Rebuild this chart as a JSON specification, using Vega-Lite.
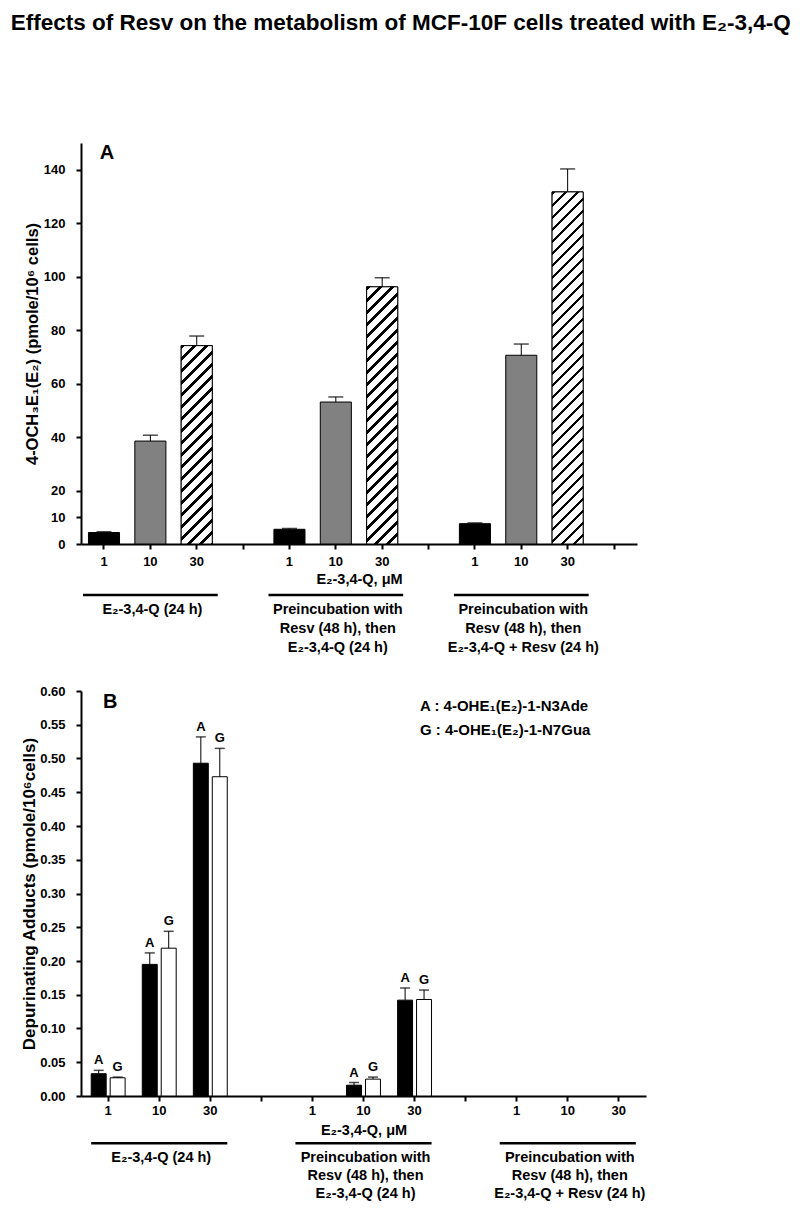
{
"$schema": "https://vega.github.io/schema/vega-lite/v6.json",
"padding": {"left": 10, "top": 12, "right": 5, "bottom": 0},
"title": {"text": "Effects of Resv on the metabolism of MCF-10F cells treated with E₂-3,4-Q", "font": "Liberation Sans", "fontSize": 22.5, "fontWeight": "bold", "color": "black", "anchor": "start", "offset": 108, "dx": -10},
"config": {
  "view": {"stroke": null},
  "font": "Liberation Sans",
  "axis": {"grid": false, "domainColor": "black", "domainWidth": 2, "tickColor": "black", "tickWidth": 2, "tickSize": 5, "labelFont": "Liberation Sans", "labelFontSize": 13, "labelFontWeight": "bold", "labelColor": "black", "titleFont": "Liberation Sans", "titleFontWeight": "bold", "titleColor": "black", "labelOverlap": false},
  "axisX": {"labelAngle": 0},
  "text": {"font": "Liberation Sans", "fontWeight": "bold", "color": "black"}
},
"datasets": {
  "a": [
    {"key": "1a", "conc": "1", "value": 4.3, "hi": 4.6},
    {"key": "10a", "conc": "10", "value": 38.5, "hi": 40.7},
    {"key": "30a", "conc": "30", "value": 74.2, "hi": 77.8},
    {"key": "1b", "conc": "1", "value": 5.5, "hi": 5.8},
    {"key": "10b", "conc": "10", "value": 53.1, "hi": 55.0},
    {"key": "30b", "conc": "30", "value": 96.2, "hi": 99.6},
    {"key": "1c", "conc": "1", "value": 7.6, "hi": 7.9},
    {"key": "10c", "conc": "10", "value": 70.6, "hi": 74.8},
    {"key": "30c", "conc": "30", "value": 131.7, "hi": 140.3}
  ],
  "b": [
    {"key": "1a", "series": "A", "value": 0.033, "hi": 0.038},
    {"key": "1a", "series": "G", "value": 0.027, "hi": 0.028},
    {"key": "10a", "series": "A", "value": 0.195, "hi": 0.212},
    {"key": "10a", "series": "G", "value": 0.219, "hi": 0.244},
    {"key": "30a", "series": "A", "value": 0.493, "hi": 0.532},
    {"key": "30a", "series": "G", "value": 0.473, "hi": 0.515},
    {"key": "10b", "series": "A", "value": 0.016, "hi": 0.020},
    {"key": "10b", "series": "G", "value": 0.025, "hi": 0.028},
    {"key": "30b", "series": "A", "value": 0.142, "hi": 0.160},
    {"key": "30b", "series": "G", "value": 0.143, "hi": 0.157}
  ],
  "groupsA": [
    {"start": "1a", "end": "30a", "mid": "10a", "label": "E₂-3,4-Q  (24 h)"},
    {"start": "1b", "end": "30b", "mid": "10b", "label": "Preincubation with\nResv (48 h), then\nE₂-3,4-Q  (24 h)"},
    {"start": "1c", "end": "30c", "mid": "10c", "label": "Preincubation with\nResv (48 h), then\nE₂-3,4-Q + Resv  (24 h)"}
  ],
  "groupsB": [
    {"start": "1a", "end": "30a", "mid": "10a", "label": "E₂-3,4-Q  (24 h)"},
    {"start": "1b", "end": "30b", "mid": "10b", "label": "Preincubation with\nResv (48 h), then\nE₂-3,4-Q  (24 h)"},
    {"start": "1c", "end": "30c", "mid": "10c", "label": "Preincubation with\nResv (48 h), then\nE₂-3,4-Q + Resv  (24 h)"}
  ]
},
"spacing": 30,
"resolve": {"scale": {"fill": "independent", "x": "independent", "y": "independent"}, "legend": {"fill": "independent"}},
"vconcat": [
{
  "width": 556, "height": 401,
  "data": {"name": "a"},
  "encoding": {
    "x": {"field": "key", "type": "nominal", "scale": {"domain": ["1a","10a","30a","xa","1b","10b","30b","xb","1c","10c","30c","xc"], "paddingInner": 0.33, "paddingOuter": 0.161},
      "axis": {"title": "E₂-3,4-Q, μM", "titleFontSize": 14.5, "titlePadding": 4, "labelPadding": 6, "labelAngle": 0, "labelExpr": "substring(datum.value,0,1)=='x' ? '' : substring(datum.value,0,length(datum.value)-1)"}}
  },
  "layer": [
    {"mark": {"type": "bar", "stroke": "black", "strokeWidth": 1},
     "encoding": {
       "y": {"field": "value", "type": "quantitative", "scale": {"domain": [0, 150], "nice": false}, "axis": {"values": [0,10,20,40,60,80,100,120,140], "labelOverlap": false, "title": "4-OCH₃E₁(E₂) (pmole/10⁶ cells)", "titleFontSize": 16.5, "titlePadding": 3, "labelPadding": 11}},
       "fill": {"field": "conc", "type": "nominal", "scale": {"domain": ["1","10","30"], "range": ["black","#818181","white"]}, "legend": null}
     }},
    {"transform": [{"filter": "datum.key=='30a'"}],
     "mark": {"type": "bar", "stroke": "black", "strokeWidth": 1, "fill": {"gradient": "linear", "x1": 0, "y1": 0, "x2": 0.3079, "y2": 1.968, "stops": [
{"offset":0,"color":"#000"},{"offset":0.009,"color":"#000"},{"offset":0.009,"color":"#fff"},{"offset":0.03,"color":"#fff"},
{"offset":0.03,"color":"#000"},{"offset":0.039,"color":"#000"},{"offset":0.039,"color":"#fff"},{"offset":0.06,"color":"#fff"},
{"offset":0.06,"color":"#000"},{"offset":0.069,"color":"#000"},{"offset":0.069,"color":"#fff"},{"offset":0.09,"color":"#fff"},
{"offset":0.09,"color":"#000"},{"offset":0.099,"color":"#000"},{"offset":0.099,"color":"#fff"},{"offset":0.12,"color":"#fff"},
{"offset":0.12,"color":"#000"},{"offset":0.129,"color":"#000"},{"offset":0.129,"color":"#fff"},{"offset":0.15,"color":"#fff"},
{"offset":0.15,"color":"#000"},{"offset":0.159,"color":"#000"},{"offset":0.159,"color":"#fff"},{"offset":0.18,"color":"#fff"},
{"offset":0.18,"color":"#000"},{"offset":0.189,"color":"#000"},{"offset":0.189,"color":"#fff"},{"offset":0.21,"color":"#fff"},
{"offset":0.21,"color":"#000"},{"offset":0.219,"color":"#000"},{"offset":0.219,"color":"#fff"},{"offset":0.24,"color":"#fff"},
{"offset":0.24,"color":"#000"},{"offset":0.249,"color":"#000"},{"offset":0.249,"color":"#fff"},{"offset":0.27,"color":"#fff"},
{"offset":0.27,"color":"#000"},{"offset":0.279,"color":"#000"},{"offset":0.279,"color":"#fff"},{"offset":0.3,"color":"#fff"},
{"offset":0.3,"color":"#000"},{"offset":0.309,"color":"#000"},{"offset":0.309,"color":"#fff"},{"offset":0.33,"color":"#fff"},
{"offset":0.33,"color":"#000"},{"offset":0.339,"color":"#000"},{"offset":0.339,"color":"#fff"},{"offset":0.36,"color":"#fff"},
{"offset":0.36,"color":"#000"},{"offset":0.369,"color":"#000"},{"offset":0.369,"color":"#fff"},{"offset":0.39,"color":"#fff"},
{"offset":0.39,"color":"#000"},{"offset":0.399,"color":"#000"},{"offset":0.399,"color":"#fff"},{"offset":0.42,"color":"#fff"},
{"offset":0.42,"color":"#000"},{"offset":0.429,"color":"#000"},{"offset":0.429,"color":"#fff"},{"offset":0.45,"color":"#fff"},
{"offset":0.45,"color":"#000"},{"offset":0.459,"color":"#000"},{"offset":0.459,"color":"#fff"},{"offset":0.48,"color":"#fff"},
{"offset":0.48,"color":"#000"},{"offset":0.489,"color":"#000"},{"offset":0.489,"color":"#fff"},{"offset":0.51,"color":"#fff"},
{"offset":0.51,"color":"#000"},{"offset":0.519,"color":"#000"},{"offset":0.519,"color":"#fff"},{"offset":0.54,"color":"#fff"},
{"offset":0.54,"color":"#000"},{"offset":0.549,"color":"#000"},{"offset":0.549,"color":"#fff"},{"offset":0.57,"color":"#fff"},
{"offset":0.57,"color":"#000"},{"offset":0.579,"color":"#000"},{"offset":0.579,"color":"#fff"},{"offset":0.6,"color":"#fff"},
{"offset":0.6,"color":"#000"},{"offset":0.609,"color":"#000"},{"offset":0.609,"color":"#fff"},{"offset":0.63,"color":"#fff"},
{"offset":0.63,"color":"#000"},{"offset":0.639,"color":"#000"},{"offset":0.639,"color":"#fff"},{"offset":0.66,"color":"#fff"},
{"offset":0.66,"color":"#000"},{"offset":0.669,"color":"#000"},{"offset":0.669,"color":"#fff"},{"offset":0.69,"color":"#fff"},
{"offset":0.69,"color":"#000"},{"offset":0.699,"color":"#000"},{"offset":0.699,"color":"#fff"},{"offset":0.72,"color":"#fff"},
{"offset":0.72,"color":"#000"},{"offset":0.729,"color":"#000"},{"offset":0.729,"color":"#fff"},{"offset":0.75,"color":"#fff"},
{"offset":0.75,"color":"#000"},{"offset":0.759,"color":"#000"},{"offset":0.759,"color":"#fff"},{"offset":0.78,"color":"#fff"},
{"offset":0.78,"color":"#000"},{"offset":0.789,"color":"#000"},{"offset":0.789,"color":"#fff"},{"offset":0.81,"color":"#fff"},
{"offset":0.81,"color":"#000"},{"offset":0.819,"color":"#000"},{"offset":0.819,"color":"#fff"},{"offset":0.84,"color":"#fff"},
{"offset":0.84,"color":"#000"},{"offset":0.849,"color":"#000"},{"offset":0.849,"color":"#fff"},{"offset":0.87,"color":"#fff"},
{"offset":0.87,"color":"#000"},{"offset":0.879,"color":"#000"},{"offset":0.879,"color":"#fff"},{"offset":0.9,"color":"#fff"},
{"offset":0.9,"color":"#000"},{"offset":0.909,"color":"#000"},{"offset":0.909,"color":"#fff"},{"offset":0.93,"color":"#fff"},
{"offset":0.93,"color":"#000"},{"offset":0.939,"color":"#000"},{"offset":0.939,"color":"#fff"},{"offset":0.96,"color":"#fff"},
{"offset":0.96,"color":"#000"},{"offset":0.969,"color":"#000"},{"offset":0.969,"color":"#fff"},{"offset":0.99,"color":"#fff"},
{"offset":0.99,"color":"#000"},{"offset":0.999,"color":"#000"},{"offset":0.999,"color":"#fff"},{"offset":1,"color":"#fff"}
     ]}},
     "encoding": {"y": {"field": "value", "type": "quantitative"}}},
    {"transform": [{"filter": "datum.key=='30b'"}],
     "mark": {"type": "bar", "stroke": "black", "strokeWidth": 1, "fill": {"gradient": "linear", "x1": 0, "y1": 0, "x2": 0.185, "y2": 1.5329, "stops": [
{"offset":0,"color":"#000"},{"offset":0.009,"color":"#000"},{"offset":0.009,"color":"#fff"},{"offset":0.03,"color":"#fff"},
{"offset":0.03,"color":"#000"},{"offset":0.039,"color":"#000"},{"offset":0.039,"color":"#fff"},{"offset":0.06,"color":"#fff"},
{"offset":0.06,"color":"#000"},{"offset":0.069,"color":"#000"},{"offset":0.069,"color":"#fff"},{"offset":0.09,"color":"#fff"},
{"offset":0.09,"color":"#000"},{"offset":0.099,"color":"#000"},{"offset":0.099,"color":"#fff"},{"offset":0.12,"color":"#fff"},
{"offset":0.12,"color":"#000"},{"offset":0.129,"color":"#000"},{"offset":0.129,"color":"#fff"},{"offset":0.15,"color":"#fff"},
{"offset":0.15,"color":"#000"},{"offset":0.159,"color":"#000"},{"offset":0.159,"color":"#fff"},{"offset":0.18,"color":"#fff"},
{"offset":0.18,"color":"#000"},{"offset":0.189,"color":"#000"},{"offset":0.189,"color":"#fff"},{"offset":0.21,"color":"#fff"},
{"offset":0.21,"color":"#000"},{"offset":0.219,"color":"#000"},{"offset":0.219,"color":"#fff"},{"offset":0.24,"color":"#fff"},
{"offset":0.24,"color":"#000"},{"offset":0.249,"color":"#000"},{"offset":0.249,"color":"#fff"},{"offset":0.27,"color":"#fff"},
{"offset":0.27,"color":"#000"},{"offset":0.279,"color":"#000"},{"offset":0.279,"color":"#fff"},{"offset":0.3,"color":"#fff"},
{"offset":0.3,"color":"#000"},{"offset":0.309,"color":"#000"},{"offset":0.309,"color":"#fff"},{"offset":0.33,"color":"#fff"},
{"offset":0.33,"color":"#000"},{"offset":0.339,"color":"#000"},{"offset":0.339,"color":"#fff"},{"offset":0.36,"color":"#fff"},
{"offset":0.36,"color":"#000"},{"offset":0.369,"color":"#000"},{"offset":0.369,"color":"#fff"},{"offset":0.39,"color":"#fff"},
{"offset":0.39,"color":"#000"},{"offset":0.399,"color":"#000"},{"offset":0.399,"color":"#fff"},{"offset":0.42,"color":"#fff"},
{"offset":0.42,"color":"#000"},{"offset":0.429,"color":"#000"},{"offset":0.429,"color":"#fff"},{"offset":0.45,"color":"#fff"},
{"offset":0.45,"color":"#000"},{"offset":0.459,"color":"#000"},{"offset":0.459,"color":"#fff"},{"offset":0.48,"color":"#fff"},
{"offset":0.48,"color":"#000"},{"offset":0.489,"color":"#000"},{"offset":0.489,"color":"#fff"},{"offset":0.51,"color":"#fff"},
{"offset":0.51,"color":"#000"},{"offset":0.519,"color":"#000"},{"offset":0.519,"color":"#fff"},{"offset":0.54,"color":"#fff"},
{"offset":0.54,"color":"#000"},{"offset":0.549,"color":"#000"},{"offset":0.549,"color":"#fff"},{"offset":0.57,"color":"#fff"},
{"offset":0.57,"color":"#000"},{"offset":0.579,"color":"#000"},{"offset":0.579,"color":"#fff"},{"offset":0.6,"color":"#fff"},
{"offset":0.6,"color":"#000"},{"offset":0.609,"color":"#000"},{"offset":0.609,"color":"#fff"},{"offset":0.63,"color":"#fff"},
{"offset":0.63,"color":"#000"},{"offset":0.639,"color":"#000"},{"offset":0.639,"color":"#fff"},{"offset":0.66,"color":"#fff"},
{"offset":0.66,"color":"#000"},{"offset":0.669,"color":"#000"},{"offset":0.669,"color":"#fff"},{"offset":0.69,"color":"#fff"},
{"offset":0.69,"color":"#000"},{"offset":0.699,"color":"#000"},{"offset":0.699,"color":"#fff"},{"offset":0.72,"color":"#fff"},
{"offset":0.72,"color":"#000"},{"offset":0.729,"color":"#000"},{"offset":0.729,"color":"#fff"},{"offset":0.75,"color":"#fff"},
{"offset":0.75,"color":"#000"},{"offset":0.759,"color":"#000"},{"offset":0.759,"color":"#fff"},{"offset":0.78,"color":"#fff"},
{"offset":0.78,"color":"#000"},{"offset":0.789,"color":"#000"},{"offset":0.789,"color":"#fff"},{"offset":0.81,"color":"#fff"},
{"offset":0.81,"color":"#000"},{"offset":0.819,"color":"#000"},{"offset":0.819,"color":"#fff"},{"offset":0.84,"color":"#fff"},
{"offset":0.84,"color":"#000"},{"offset":0.849,"color":"#000"},{"offset":0.849,"color":"#fff"},{"offset":0.87,"color":"#fff"},
{"offset":0.87,"color":"#000"},{"offset":0.879,"color":"#000"},{"offset":0.879,"color":"#fff"},{"offset":0.9,"color":"#fff"},
{"offset":0.9,"color":"#000"},{"offset":0.909,"color":"#000"},{"offset":0.909,"color":"#fff"},{"offset":0.93,"color":"#fff"},
{"offset":0.93,"color":"#000"},{"offset":0.939,"color":"#000"},{"offset":0.939,"color":"#fff"},{"offset":0.96,"color":"#fff"},
{"offset":0.96,"color":"#000"},{"offset":0.969,"color":"#000"},{"offset":0.969,"color":"#fff"},{"offset":0.99,"color":"#fff"},
{"offset":0.99,"color":"#000"},{"offset":0.999,"color":"#000"},{"offset":0.999,"color":"#fff"},{"offset":1,"color":"#fff"}
     ]}},
     "encoding": {"y": {"field": "value", "type": "quantitative"}}},
    {"transform": [{"filter": "datum.key=='30c'"}],
     "mark": {"type": "bar", "stroke": "black", "strokeWidth": 1, "fill": {"gradient": "linear", "x1": 0, "y1": 0, "x2": 0.09938, "y2": 1.1273, "stops": [
{"offset":0,"color":"#000"},{"offset":0.009,"color":"#000"},{"offset":0.009,"color":"#fff"},{"offset":0.03,"color":"#fff"},
{"offset":0.03,"color":"#000"},{"offset":0.039,"color":"#000"},{"offset":0.039,"color":"#fff"},{"offset":0.06,"color":"#fff"},
{"offset":0.06,"color":"#000"},{"offset":0.069,"color":"#000"},{"offset":0.069,"color":"#fff"},{"offset":0.09,"color":"#fff"},
{"offset":0.09,"color":"#000"},{"offset":0.099,"color":"#000"},{"offset":0.099,"color":"#fff"},{"offset":0.12,"color":"#fff"},
{"offset":0.12,"color":"#000"},{"offset":0.129,"color":"#000"},{"offset":0.129,"color":"#fff"},{"offset":0.15,"color":"#fff"},
{"offset":0.15,"color":"#000"},{"offset":0.159,"color":"#000"},{"offset":0.159,"color":"#fff"},{"offset":0.18,"color":"#fff"},
{"offset":0.18,"color":"#000"},{"offset":0.189,"color":"#000"},{"offset":0.189,"color":"#fff"},{"offset":0.21,"color":"#fff"},
{"offset":0.21,"color":"#000"},{"offset":0.219,"color":"#000"},{"offset":0.219,"color":"#fff"},{"offset":0.24,"color":"#fff"},
{"offset":0.24,"color":"#000"},{"offset":0.249,"color":"#000"},{"offset":0.249,"color":"#fff"},{"offset":0.27,"color":"#fff"},
{"offset":0.27,"color":"#000"},{"offset":0.279,"color":"#000"},{"offset":0.279,"color":"#fff"},{"offset":0.3,"color":"#fff"},
{"offset":0.3,"color":"#000"},{"offset":0.309,"color":"#000"},{"offset":0.309,"color":"#fff"},{"offset":0.33,"color":"#fff"},
{"offset":0.33,"color":"#000"},{"offset":0.339,"color":"#000"},{"offset":0.339,"color":"#fff"},{"offset":0.36,"color":"#fff"},
{"offset":0.36,"color":"#000"},{"offset":0.369,"color":"#000"},{"offset":0.369,"color":"#fff"},{"offset":0.39,"color":"#fff"},
{"offset":0.39,"color":"#000"},{"offset":0.399,"color":"#000"},{"offset":0.399,"color":"#fff"},{"offset":0.42,"color":"#fff"},
{"offset":0.42,"color":"#000"},{"offset":0.429,"color":"#000"},{"offset":0.429,"color":"#fff"},{"offset":0.45,"color":"#fff"},
{"offset":0.45,"color":"#000"},{"offset":0.459,"color":"#000"},{"offset":0.459,"color":"#fff"},{"offset":0.48,"color":"#fff"},
{"offset":0.48,"color":"#000"},{"offset":0.489,"color":"#000"},{"offset":0.489,"color":"#fff"},{"offset":0.51,"color":"#fff"},
{"offset":0.51,"color":"#000"},{"offset":0.519,"color":"#000"},{"offset":0.519,"color":"#fff"},{"offset":0.54,"color":"#fff"},
{"offset":0.54,"color":"#000"},{"offset":0.549,"color":"#000"},{"offset":0.549,"color":"#fff"},{"offset":0.57,"color":"#fff"},
{"offset":0.57,"color":"#000"},{"offset":0.579,"color":"#000"},{"offset":0.579,"color":"#fff"},{"offset":0.6,"color":"#fff"},
{"offset":0.6,"color":"#000"},{"offset":0.609,"color":"#000"},{"offset":0.609,"color":"#fff"},{"offset":0.63,"color":"#fff"},
{"offset":0.63,"color":"#000"},{"offset":0.639,"color":"#000"},{"offset":0.639,"color":"#fff"},{"offset":0.66,"color":"#fff"},
{"offset":0.66,"color":"#000"},{"offset":0.669,"color":"#000"},{"offset":0.669,"color":"#fff"},{"offset":0.69,"color":"#fff"},
{"offset":0.69,"color":"#000"},{"offset":0.699,"color":"#000"},{"offset":0.699,"color":"#fff"},{"offset":0.72,"color":"#fff"},
{"offset":0.72,"color":"#000"},{"offset":0.729,"color":"#000"},{"offset":0.729,"color":"#fff"},{"offset":0.75,"color":"#fff"},
{"offset":0.75,"color":"#000"},{"offset":0.759,"color":"#000"},{"offset":0.759,"color":"#fff"},{"offset":0.78,"color":"#fff"},
{"offset":0.78,"color":"#000"},{"offset":0.789,"color":"#000"},{"offset":0.789,"color":"#fff"},{"offset":0.81,"color":"#fff"},
{"offset":0.81,"color":"#000"},{"offset":0.819,"color":"#000"},{"offset":0.819,"color":"#fff"},{"offset":0.84,"color":"#fff"},
{"offset":0.84,"color":"#000"},{"offset":0.849,"color":"#000"},{"offset":0.849,"color":"#fff"},{"offset":0.87,"color":"#fff"},
{"offset":0.87,"color":"#000"},{"offset":0.879,"color":"#000"},{"offset":0.879,"color":"#fff"},{"offset":0.9,"color":"#fff"},
{"offset":0.9,"color":"#000"},{"offset":0.909,"color":"#000"},{"offset":0.909,"color":"#fff"},{"offset":0.93,"color":"#fff"},
{"offset":0.93,"color":"#000"},{"offset":0.939,"color":"#000"},{"offset":0.939,"color":"#fff"},{"offset":0.96,"color":"#fff"},
{"offset":0.96,"color":"#000"},{"offset":0.969,"color":"#000"},{"offset":0.969,"color":"#fff"},{"offset":0.99,"color":"#fff"},
{"offset":0.99,"color":"#000"},{"offset":0.999,"color":"#000"},{"offset":0.999,"color":"#fff"},{"offset":1,"color":"#fff"}
     ]}},
     "encoding": {"y": {"field": "value", "type": "quantitative"}}},
    {"mark": {"type": "rule", "color": "black", "strokeWidth": 1},
     "encoding": {"y": {"field": "value", "type": "quantitative"}, "y2": {"field": "hi"}}},
    {"mark": {"type": "tick", "color": "black", "size": 15, "thickness": 1.5},
     "encoding": {"y": {"field": "hi", "type": "quantitative"}}},
    {"data": {"values": [{"k": "1a", "t": "A"}]},
     "mark": {"type": "text", "fontSize": 20, "baseline": "middle", "align": "center", "dx": 3},
     "encoding": {"x": {"field": "k", "type": "nominal"}, "y": {"datum": 146.4, "type": "quantitative"}, "text": {"field": "t"}}},
    {"data": {"name": "groupsA"},
     "mark": {"type": "rule", "color": "black", "strokeWidth": 2.5, "xOffset": -21, "x2Offset": 21},
     "encoding": {"x": {"field": "start", "type": "nominal"}, "x2": {"field": "end"}, "y": {"datum": -19.1, "type": "quantitative"}}},
    {"data": {"name": "groupsA"},
     "mark": {"type": "text", "fontSize": 14.5, "baseline": "top", "align": "center", "lineBreak": "\n", "lineHeight": 19, "dy": 8, "dx": 2},
     "encoding": {"x": {"field": "mid", "type": "nominal"}, "y": {"datum": -19.1, "type": "quantitative"}, "text": {"field": "label"}}}
  ]
},
{
  "width": 565, "height": 405,
  "data": {"name": "b"},
  "encoding": {
    "x": {"field": "key", "type": "nominal", "scale": {"domain": ["1a","10a","30a","xa","1b","10b","30b","xb","1c","10c","30c"], "paddingInner": 0.336, "paddingOuter": 0.2},
      "axis": {"title": "E₂-3,4-Q,  μM", "titleFontSize": 14.5, "titlePadding": 6, "labelPadding": 3, "labelAngle": 0, "labelExpr": "substring(datum.value,0,1)=='x' ? '' : substring(datum.value,0,length(datum.value)-1)"}}
  },
  "layer": [
    {"mark": {"type": "bar", "stroke": "black", "strokeWidth": 1},
     "encoding": {
       "xOffset": {"field": "series", "type": "nominal", "scale": {"paddingInner": 0.21, "paddingOuter": 0}},
       "y": {"field": "value", "type": "quantitative", "scale": {"domain": [0, 0.6], "nice": false}, "axis": {"values": [0,0.05,0.1,0.15,0.2,0.25,0.3,0.35,0.4,0.45,0.5,0.55,0.6], "labelOverlap": false, "tickCount": 13, "format": ".2f", "title": "Depurinating Adducts (pmole/10⁶cells)", "titleFontSize": 17, "titlePadding": 1, "labelPadding": 11}},
       "fill": {"field": "series", "type": "nominal", "scale": {"domain": ["A","G"], "range": ["black","white"]},
         "legend": {"orient": "none", "legendX": 324, "legendY": 7, "title": null, "labelExpr": "datum.value=='A' ? 'A : 4-OHE₁(E₂)-1-N3Ade' : 'G : 4-OHE₁(E₂)-1-N7Gua'", "labelFont": "Liberation Sans", "labelFontSize": 15, "labelFontWeight": "bold", "labelColor": "black", "symbolOpacity": 0, "symbolSize": 0, "symbolStrokeWidth": 0, "labelOffset": 0, "rowPadding": 8, "labelLimit": 400}}
     }},
    {"mark": {"type": "rule", "color": "black", "strokeWidth": 1},
     "encoding": {"xOffset": {"field": "series", "type": "nominal"}, "y": {"field": "value", "type": "quantitative"}, "y2": {"field": "hi"}}},
    {"mark": {"type": "tick", "color": "black", "size": 10, "thickness": 1.5},
     "encoding": {"xOffset": {"field": "series", "type": "nominal"}, "y": {"field": "hi", "type": "quantitative"}}},
    {"mark": {"type": "text", "fontSize": 13, "baseline": "bottom", "dy": -3},
     "encoding": {"xOffset": {"field": "series", "type": "nominal"}, "y": {"field": "hi", "type": "quantitative"}, "text": {"field": "series"}}},
    {"data": {"values": [{"k": "1a", "t": "B"}]},
     "mark": {"type": "text", "fontSize": 20, "baseline": "middle", "align": "center", "dx": 2},
     "encoding": {"x": {"field": "k", "type": "nominal"}, "y": {"datum": 0.583, "type": "quantitative"}, "text": {"field": "t"}}},
    {"data": {"name": "groupsB"},
     "mark": {"type": "rule", "color": "black", "strokeWidth": 2.5, "xOffset": -17, "x2Offset": 17},
     "encoding": {"x": {"field": "start", "type": "nominal"}, "x2": {"field": "end"}, "y": {"datum": -0.0701, "type": "quantitative"}}},
    {"data": {"name": "groupsB"},
     "mark": {"type": "text", "fontSize": 14.5, "baseline": "top", "align": "center", "lineBreak": "\n", "lineHeight": 18, "dy": 8, "dx": 2},
     "encoding": {"x": {"field": "mid", "type": "nominal"}, "y": {"datum": -0.0701, "type": "quantitative"}, "text": {"field": "label"}}}
  ]
}
]
}
